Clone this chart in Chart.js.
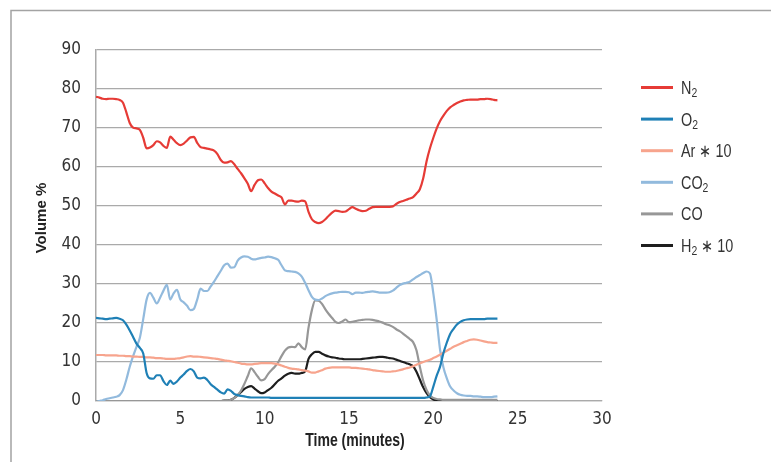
<!DOCTYPE html>
<html>
<head>
<meta charset="utf-8">
<script src="https://cdn.jsdelivr.net/npm/chart.js@4/dist/chart.umd.min.js"></script>
<style>
  html, body { margin: 0; padding: 0; background: #fff; }
  #wrap { position: relative; width: 771px; height: 462px; }
</style>
</head>
<body>
<div id="wrap"><canvas id="gasChart" width="771" height="462"></canvas></div>
<script>
// time axis (minutes)
const times = [
  0.0, 0.2, 0.4, 0.6, 0.8, 1.0, 1.2, 1.4, 1.6, 1.8,
  2.0, 2.2, 2.4, 2.6, 2.8, 3.0, 3.2, 3.4, 3.6, 3.8,
  4.0, 4.2, 4.4, 4.6, 4.8, 5.0, 5.2, 5.4, 5.6, 5.8,
  6.0, 6.2, 6.4, 6.6, 6.8, 7.0, 7.2, 7.4, 7.6, 7.8,
  8.0, 8.2, 8.4, 8.6, 8.8, 9.0, 9.2, 9.4, 9.6, 9.8,
  10.0, 10.2, 10.4, 10.6, 10.8, 11.0, 11.2, 11.4, 11.6, 11.8,
  12.0, 12.2, 12.4, 12.6, 12.8, 13.0, 13.2, 13.4, 13.6, 13.8,
  14.0, 14.2, 14.4, 14.6, 14.8, 15.0, 15.2, 15.4, 15.6, 15.8,
  16.0, 16.2, 16.4, 16.6, 16.8, 17.0, 17.2, 17.4, 17.6, 17.8,
  18.0, 18.2, 18.4, 18.6, 18.8, 19.0, 19.2, 19.4, 19.6, 19.8,
  20.0, 20.2, 20.4, 20.6, 20.8, 21.0, 21.2, 21.4, 21.6, 21.8,
  22.0, 22.2, 22.4, 22.6, 22.8, 23.0, 23.2, 23.4, 23.6, 23.8
];

const n2 = [
  78.0, 77.8, 77.5, 77.4, 77.5, 77.5, 77.4, 77.2, 76.5, 74.0,
  71.3, 70.1, 69.9, 69.5, 67.5, 64.8, 65.0, 65.6, 66.6, 66.3,
  65.4, 64.9, 67.8, 67.0, 66.1, 65.6, 66.0, 66.8, 67.6, 67.7,
  66.2, 65.1, 64.9, 64.7, 64.5, 64.2, 63.3, 61.8, 61.1, 61.2,
  61.5, 60.7, 59.5, 58.4, 57.1, 55.7, 53.8, 55.4, 56.6, 56.8,
  55.8, 54.6, 53.7, 53.2, 52.7, 52.2, 50.4, 51.4, 51.4, 51.2,
  51.1, 51.4, 51.2, 48.5, 46.6, 45.9, 45.6, 45.9, 46.6, 47.5,
  48.3, 48.8, 48.7, 48.5, 48.6, 49.2, 49.7, 49.3, 48.9, 48.7,
  48.8, 49.3, 49.7, 49.8, 49.8, 49.8, 49.8, 49.8, 49.9, 50.5,
  51.0, 51.3, 51.6, 51.9, 52.3, 53.2, 54.3, 57.1, 61.5, 64.8,
  67.5, 69.9, 71.8, 73.2, 74.4, 75.3, 75.9, 76.4, 76.8, 77.1,
  77.2, 77.3, 77.3, 77.3, 77.4, 77.4, 77.5, 77.4, 77.2, 77.1
];

const o2 = [
  21.3, 21.2, 21.1, 21.0, 21.1, 21.2, 21.3, 21.1, 20.7, 19.6,
  18.1, 16.4, 14.7, 13.6, 12.2, 7.2, 5.8, 5.7, 6.6, 6.6,
  5.1, 4.1, 5.2, 4.4, 5.0, 6.0, 6.8, 7.7, 8.2, 7.6,
  6.0, 5.8, 6.0, 5.4, 4.3, 3.6, 2.9, 2.2, 1.9, 3.0,
  2.6, 1.8, 1.5, 1.3, 1.2, 1.0, 0.9, 0.9, 0.9, 0.9,
  0.9, 0.9, 0.8, 0.8, 0.8, 0.8, 0.8, 0.8, 0.8, 0.8,
  0.8, 0.8, 0.8, 0.8, 0.8, 0.8, 0.8, 0.8, 0.8, 0.8,
  0.8, 0.8, 0.8, 0.8, 0.8, 0.8, 0.8, 0.8, 0.8, 0.8,
  0.8, 0.8, 0.8, 0.8, 0.8, 0.8, 0.8, 0.8, 0.8, 0.8,
  0.8, 0.8, 0.8, 0.8, 0.8, 0.8, 0.8, 0.8, 0.9, 1.2,
  3.7, 6.5, 8.8, 12.3, 15.0, 17.2, 18.5, 19.6, 20.3, 20.7,
  20.9, 21.0, 21.0, 21.0, 21.0, 21.0, 21.1, 21.1, 21.1, 21.1
];

const ar10 = [
  11.8, 11.8, 11.8, 11.7, 11.7, 11.7, 11.7, 11.6, 11.6, 11.5,
  11.5, 11.4, 11.4, 11.3, 11.3, 11.2, 11.2, 11.1, 11.0, 11.0,
  10.9, 10.8, 10.8, 10.8, 10.9, 11.0, 11.2, 11.4, 11.5, 11.4,
  11.4, 11.3, 11.2, 11.1, 11.0, 10.9, 10.8, 10.6, 10.4, 10.3,
  10.2, 10.0, 9.8, 9.6, 9.5, 9.4, 9.4, 9.5, 9.6, 9.7,
  9.7, 9.7, 9.7, 9.6, 9.4, 9.1, 8.8, 8.5, 8.3, 8.2,
  8.1, 7.9, 7.8, 7.6, 7.3, 7.3, 7.6, 7.9, 8.3, 8.5,
  8.6, 8.6, 8.6, 8.6, 8.6, 8.6, 8.5, 8.5, 8.4, 8.3,
  8.2, 8.1, 7.9, 7.8, 7.7, 7.6, 7.5, 7.5, 7.6, 7.7,
  7.9, 8.1, 8.4, 8.6, 8.9, 9.3, 9.7, 10.0, 10.3, 10.6,
  11.0, 11.4, 11.9, 12.4, 12.9, 13.4, 13.9, 14.3, 14.7, 15.1,
  15.4, 15.7, 15.8, 15.7, 15.5, 15.3, 15.1, 15.0, 14.9, 14.9
];

const co2 = [
  -0.3, 0.0, 0.2, 0.5, 0.7, 0.9, 1.1, 1.5, 2.8, 5.5,
  8.8, 11.5, 13.9, 16.2, 21.0, 26.0, 27.7, 26.5, 25.0, 26.5,
  28.3, 29.8, 26.0, 27.6, 28.5, 26.0, 25.3, 24.4, 23.3, 23.6,
  26.0, 28.8, 28.2, 28.2, 29.4, 30.6, 32.0, 33.4, 34.8, 35.2,
  34.2, 34.3, 36.0, 36.8, 37.1, 37.0, 36.5, 36.3, 36.5, 36.7,
  36.8, 37.0, 36.9, 36.6, 36.2, 34.8, 33.5, 33.3, 33.2, 33.1,
  32.7, 31.9, 30.3, 28.4, 26.7, 26.0, 25.9, 26.3, 26.9, 27.3,
  27.6, 27.8, 27.9, 28.0, 28.0, 27.9, 27.4, 27.8, 27.8, 27.7,
  27.9, 28.0, 28.1, 28.0, 27.8, 27.8, 27.8, 27.9, 28.3, 29.0,
  29.7, 30.1, 30.3, 30.6, 31.2, 31.8, 32.3, 32.8, 33.2, 32.7,
  27.6, 20.8, 13.1, 8.6, 5.8, 3.7, 2.7, 2.0, 1.6, 1.4,
  1.3, 1.3, 1.2, 1.2, 1.1, 1.0, 1.0, 1.0, 1.1, 1.2
];

const co = [
  0, 0, 0, 0, 0, 0, 0, 0, 0, 0,
  0, 0, 0, 0, 0, 0, 0, 0, 0, 0,
  0, 0, 0, 0, 0, 0, 0, 0, 0, 0,
  0, 0, 0, 0, 0, 0, 0, 0, 0.1, 0.1,
  0.3, 0.8, 1.5, 2.7, 4.4, 6.4, 8.4, 7.4, 6.2, 5.3,
  5.6, 6.9, 7.9, 8.8, 9.9, 11.5, 12.9, 13.7, 13.9, 13.8,
  14.8, 13.8, 13.2, 18.8, 23.3, 25.8, 25.7, 24.9, 23.5, 22.3,
  21.3, 20.3, 20.0, 20.4, 20.9, 20.2, 20.3, 20.5, 20.7, 20.8,
  20.9, 20.9, 20.8, 20.6, 20.4, 20.1, 19.7, 19.4, 19.0, 18.4,
  17.9, 17.3, 16.6, 15.9, 15.1, 13.0, 8.8, 5.2, 2.8, 1.4,
  0.8, 0.5, 0.4, 0.3, 0.3, 0.3, 0.3, 0.3, 0.3, 0.3,
  0.3, 0.3, 0.3, 0.3, 0.3, 0.3, 0.3, 0.3, 0.3, 0.3
];

const h2x10 = [
  0, 0, 0, 0, 0, 0, 0, 0, 0, 0,
  0, 0, 0, 0, 0, 0, 0, 0, 0, 0,
  0, 0, 0, 0, 0, 0, 0, 0, 0, 0,
  0, 0, 0, 0, 0, 0, 0, 0, 0.1, 0.1,
  0.3, 0.8, 1.5, 2.3, 3.1, 3.6, 3.8, 3.2, 2.5, 2.0,
  2.2, 2.8, 3.4, 4.3, 5.2, 5.8, 6.5, 7.0, 7.2, 7.0,
  7.0, 7.2, 7.6, 10.8, 12.0, 12.6, 12.6, 12.1, 11.7, 11.4,
  11.2, 11.1, 10.9, 10.8, 10.7, 10.7, 10.7, 10.7, 10.7, 10.8,
  10.9, 11.0, 11.1, 11.2, 11.3, 11.3, 11.2, 11.0, 10.9, 10.6,
  10.3, 10.0, 9.7, 9.4, 8.9, 7.5, 5.5, 3.5, 2.0, 1.0,
  0.4, 0.1, 0, 0, 0, 0, 0, 0, 0, 0,
  0, 0, 0, 0, 0, 0, 0, 0, 0, 0
];

const seriesNames = ['N₂', 'O₂', 'Ar ∗ 10', 'CO₂', 'CO', 'H₂ ∗ 10'];
const seriesColors = ['#e63b36', '#1f80b6', '#f7a48d', '#92badd', '#979797', '#1e1e1e'];
const seriesValues = [n2, o2, ar10, co2, co, h2x10];

const narrow = '"DejaVu Sans Condensed", sans-serif';
const sans = '"Liberation Sans", Arial, sans-serif';

const datasets = seriesValues.map((vals, i) => ({
  label: seriesNames[i],
  data: times.map((t, k) => ({ x: t, y: vals[k] })),
  borderColor: seriesColors[i],
  backgroundColor: seriesColors[i],
  borderWidth: 2.2,
  pointRadius: 0,
  fill: false,
  cubicInterpolationMode: 'monotone'
}));

// legend text, squeezed sideways to look like a narrow face; "₂" drawn as a lowered small 2
function drawLabel(ctx, text, x, y) {
  ctx.save();
  ctx.translate(x, y);
  ctx.scale(0.8, 1);
  let cx = 0;
  for (const ch of text) {
    if (ch === '₂') {
      ctx.font = '13px ' + sans;
      ctx.fillText('2', cx, 3);
      cx += ctx.measureText('2').width;
    } else {
      ctx.font = '18px ' + sans;
      ctx.fillText(ch, cx, 0);
      cx += ctx.measureText(ch).width;
    }
  }
  ctx.restore();
}

const decor = {
  id: 'decor',
  beforeDraw(chart) {
    const ctx = chart.ctx;
    ctx.save();
    ctx.strokeStyle = '#a3a3a3';
    ctx.lineWidth = 1.5;
    ctx.beginPath();
    ctx.moveTo(11, 462);
    ctx.lineTo(11, 10.5);
    ctx.lineTo(771, 10.5);
    ctx.stroke();
    ctx.restore();
  },
  afterDraw(chart) {
    const ctx = chart.ctx;
    ctx.save();
    ctx.fillStyle = '#222';
    ctx.textAlign = 'center';
    ctx.textBaseline = 'middle';

    ctx.save();
    ctx.translate(355, 441);
    ctx.scale(0.78, 1);
    ctx.font = 'bold 18px ' + sans;
    ctx.fillText('Time (minutes)', 0, 0);
    ctx.restore();

    ctx.save();
    ctx.translate(42, 218);
    ctx.rotate(-Math.PI / 2);
    ctx.font = 'bold 15px ' + sans;
    ctx.fillText('Volume %', 0, 0);
    ctx.restore();

    ctx.textAlign = 'left';
    ctx.textBaseline = 'alphabetic';
    chart.data.datasets.forEach((ds, i) => {
      const y = 87.5 + i * 31.6;
      ctx.strokeStyle = ds.borderColor;
      ctx.lineWidth = 3;
      ctx.beginPath();
      ctx.moveTo(641, y);
      ctx.lineTo(673, y);
      ctx.stroke();
      ctx.fillStyle = '#333';
      drawLabel(ctx, ds.label, 681, y + 6.5);
    });
    ctx.restore();
  }
};

new Chart(document.getElementById('gasChart'), {
  type: 'line',
  data: { datasets: datasets },
  options: {
    responsive: false,
    animation: false,
    layout: { padding: { top: 50, right: 169, left: 0, bottom: 0 } },
    plugins: {
      legend: { display: false },
      tooltip: { enabled: false }
    },
    scales: {
      x: {
        type: 'linear',
        min: 0,
        max: 30,
        afterFit: (s) => { s.height = 61; },
        ticks: {
          stepSize: 5,
          padding: 8,
          color: '#333',
          font: { family: narrow, size: 17 }
        },
        grid: {
          drawTicks: false,
          lineWidth: 1.3,
          color: (c) => (c.index === 0 || c.value === 30) ? '#aaaaaa' : 'rgba(0,0,0,0)'
        },
        border: { display: true, color: '#aaaaaa', width: 1.3 }
      },
      y: {
        min: 0,
        max: 90,
        afterFit: (s) => { s.width = 96; },
        ticks: {
          stepSize: 10,
          padding: 15,
          color: '#333',
          font: { family: narrow, size: 17 }
        },
        grid: { drawTicks: false, lineWidth: 1.3, color: '#aaaaaa' },
        border: { display: true, color: '#aaaaaa', width: 1.3 }
      }
    }
  },
  plugins: [decor]
});
</script>
</body>
</html>
